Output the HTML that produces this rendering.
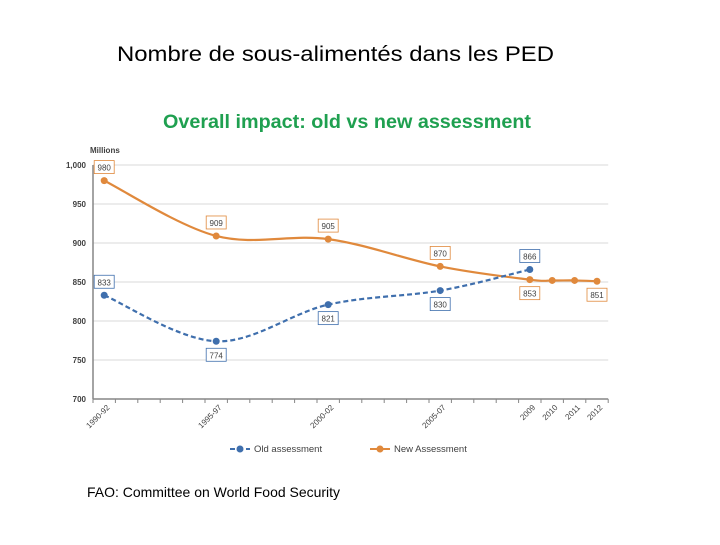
<!DOCTYPE html>
<html><head><meta charset="utf-8"><style>
body{margin:0;background:#fff;width:720px;height:540px;overflow:hidden;font-family:"Liberation Sans",sans-serif}
</style></head><body>
<svg width="720" height="540" font-family="Liberation Sans, sans-serif">
<text x="117" y="61" font-size="21" fill="#000" textLength="437" lengthAdjust="spacingAndGlyphs">Nombre de sous-alimentés dans les PED</text>
<text x="163" y="128" font-size="19" font-weight="bold" fill="#1fa050" textLength="368" lengthAdjust="spacingAndGlyphs">Overall impact: old vs new assessment</text>
<text x="87" y="497" font-size="14" fill="#000" textLength="253" lengthAdjust="spacingAndGlyphs">FAO: Committee on World Food Security</text>
<g id="chart"></g>
</svg>
<script>
const categories=["1990-92","1995-97","2000-02","2005-07","2009","2010","2011","2012"];
const slots=[0,5,10,15,19,20,21,22];
const oldValues=[833,774,821,839,866];
const newValues=[980,909,905,870,853,852,852,851];
const oldLabels=["833","774","821","830","866"];
const newLabels=["980","909","905","870","853",null,null,"851"];
const yTicks=[700,750,800,850,900,950,1000];
const yTickLabels=["700","750","800","850","900","950","1,000"];
const NS="http://www.w3.org/2000/svg";
const g=document.getElementById('chart');
const X0=93,SW=22.4,NS_=23;
const xs=i=>X0+(slots[i]+0.5)*SW;
const ys=v=>399-(v-700)*234/300;
function mk(t,a,p){const e=document.createElementNS(NS,t);for(const k in a)e.setAttribute(k,a[k]);(p||g).appendChild(e);return e;}
yTicks.forEach((v,i)=>{
 if(v>700){const l=mk('line',{x1:X0,x2:X0+NS_*SW,y1:ys(v),y2:ys(v),stroke:'#d9d9d9','stroke-width':1});
 
 }
 const t=mk('text',{x:86,y:ys(v)+3,'font-size':8,'font-weight':'bold','text-anchor':'end',fill:'#404040'});t.textContent=yTickLabels[i];
 
 
});
const mil=mk('text',{x:90,y:153,'font-size':8,'font-weight':'bold',fill:'#404040'});mil.textContent='Millions';


const ya=mk('line',{x1:X0,x2:X0,y1:ys(1000),y2:399,stroke:'#868686','stroke-width':1.5});


const xa=mk('line',{x1:X0,x2:X0+NS_*SW,y1:399,y2:399,stroke:'#868686','stroke-width':1.5});


for(let k=0;k<=NS_;k++){const tk=mk('line',{x1:X0+k*SW,x2:X0+k*SW,y1:399,y2:403,stroke:'#868686'});
 
 }
categories.forEach((c,i)=>{const x=xs(i);const t=mk('text',{x:x+6,y:408,'font-size':8,'text-anchor':'end',fill:'#404040',transform:`rotate(-45 ${x+6} 408)`});t.textContent=c;
 
 });
function path(vals){const p=vals.map((v,i)=>[xs(i),ys(v)]);let d=`M${p[0][0]},${p[0][1]}`;
 for(let i=0;i<p.length-1;i++){const a=p[i-1]||p[i],b=p[i],c=p[i+1],e=p[i+2]||c;
 d+=` C${b[0]+(c[0]-a[0])/6},${b[1]+(c[1]-a[1])/6} ${c[0]-(e[0]-b[0])/6},${c[1]-(e[1]-b[1])/6} ${c[0]},${c[1]}`;}return d;}
function series(vals,labels,col,dash,name,below){
 const pl=mk('path',{d:path(vals),fill:'none',stroke:col,'stroke-width':2.2,'stroke-dasharray':dash});
 
 
 vals.forEach((v,i)=>{const c=mk('circle',{cx:xs(i),cy:ys(v),r:3.5,fill:col});
  
  
  if(labels[i]){const up=below(i);const ly=up?ys(v)-20:ys(v)+7;const lx=xs(i)-10;
   mk('rect',{x:lx,y:ly,width:20,height:13,fill:'#fff',stroke:col,'stroke-width':0.8});
   const t=mk('text',{x:xs(i),y:ly+10,'font-size':8,'text-anchor':'middle',fill:'#404040'});t.textContent=labels[i];
   
   }});
}
series(newValues,newLabels,'#e0893c','','new-assessment',i=>i<4);
series(oldValues,oldLabels,'#3f6fad','5,3','old-assessment',i=>i==0||i==4);
const L=[[230,'Old assessment','#3f6fad','5,3'],[370,'New Assessment','#e0893c','']];
L.forEach(([x,lab,col,d])=>{const gg=mk('g',{});
 
 
 mk('line',{x1:x,x2:x+20,y1:449,y2:449,stroke:col,'stroke-width':2,'stroke-dasharray':d},gg);
 mk('circle',{cx:x+10,cy:449,r:3.5,fill:col},gg);
 const t=mk('text',{x:x+24,y:452,'font-size':9.5,fill:'#404040'},gg);t.textContent=lab;});
</script>
</body></html>
